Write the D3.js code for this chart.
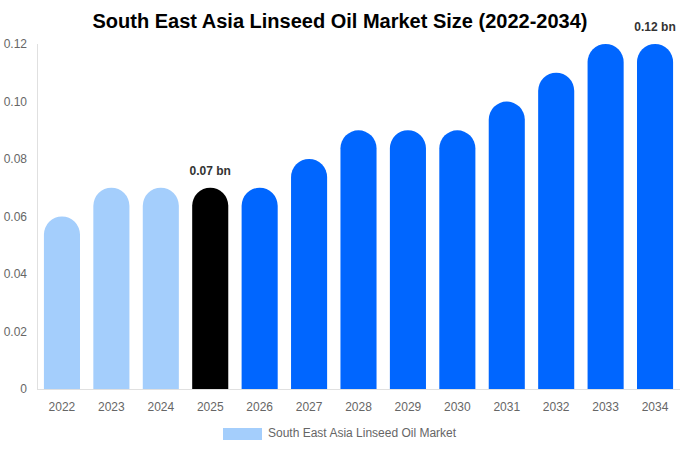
<!DOCTYPE html>
<html><head><meta charset="utf-8">
<script src="https://cdn.jsdelivr.net/npm/d3@7"></script>
<style>body{margin:0;background:#fff}</style>
</head><body>
<svg id="c" width="680" height="450"></svg>
<script>
const years = ["2022","2023","2024","2025","2026","2027","2028","2029","2030","2031","2032","2033","2034"];
const values = [0.06,0.07,0.07,0.07,0.07,0.08,0.09,0.09,0.09,0.10,0.11,0.12,0.12];
const barKinds = ["hist","hist","hist","current","fore","fore","fore","fore","fore","fore","fore","fore","fore"];
const yTicks = [0,0.02,0.04,0.06,0.08,0.10,0.12];
const labelled = {"2025":"0.07 bn","2034":"0.12 bn"};
const colors = {hist:"#a4cefc",current:"#000000",fore:"#0066ff"};

const svg = d3.select("#c");
const font = "Liberation Sans, Arial, sans-serif";
const x = d3.scaleBand().domain(years).range([37,680]).paddingInner(0.27).paddingOuter(0.14);
const y = d3.scaleLinear().domain([0,0.12]).range([389,44]);

svg.append("text").attr("x",340).attr("y",28).attr("text-anchor","middle")
  .attr("font-family",font).attr("font-size",20).attr("font-weight","bold").text("South East Asia Linseed Oil Market Size (2022-2034)");

svg.append("line").attr("x1",37.5).attr("x2",37.5).attr("y1",44).attr("y2",389).attr("stroke","#e0e0e0");
svg.append("line").attr("x1",37).attr("x2",680).attr("y1",389.5).attr("y2",389.5).attr("stroke","#e0e0e0");

svg.selectAll(".yt").data(yTicks).enter().append("text")
  .attr("x",27).attr("y",d=>y(d)+4).attr("text-anchor","end")
  .attr("font-family",font).attr("font-size",12).attr("fill","#666")
  .text(d=>d===0?"0":d.toFixed(2));

svg.selectAll(".xt").data(years).enter().append("text")
  .attr("x",d=>x(d)+x.bandwidth()/2).attr("y",411).attr("text-anchor","middle")
  .attr("font-family",font).attr("font-size",12).attr("fill","#666").text(d=>d);

const bw = x.bandwidth(), r = bw/2;
svg.selectAll(".bar").data(years).enter().append("path")
  .attr("fill",(d,i)=>colors[barKinds[i]])
  .attr("d",(d,i)=>{
    const x0 = x(d), top = y(values[i]), bot = y(0);
    return `M${x0},${bot}V${top+r}A${r},${r} 0 0 1 ${x0+bw},${top+r}V${bot}Z`;
  });

svg.selectAll(".lab").data(years.filter(d=>labelled[d])).enter().append("text")
  .attr("x",d=>x(d)+bw/2).attr("y",d=>y(values[years.indexOf(d)])-13)
  .attr("text-anchor","middle").attr("font-family",font).attr("font-size",12)
  .attr("font-weight","bold").attr("fill","#333").text(d=>labelled[d]);

svg.append("rect").attr("x",223).attr("y",428).attr("width",39).attr("height",12).attr("fill",colors.hist);
svg.append("text").attr("x",268).attr("y",437).attr("font-family",font).attr("font-size",12)
  .attr("fill","#666").text("South East Asia Linseed Oil Market");
</script>
</body></html>
